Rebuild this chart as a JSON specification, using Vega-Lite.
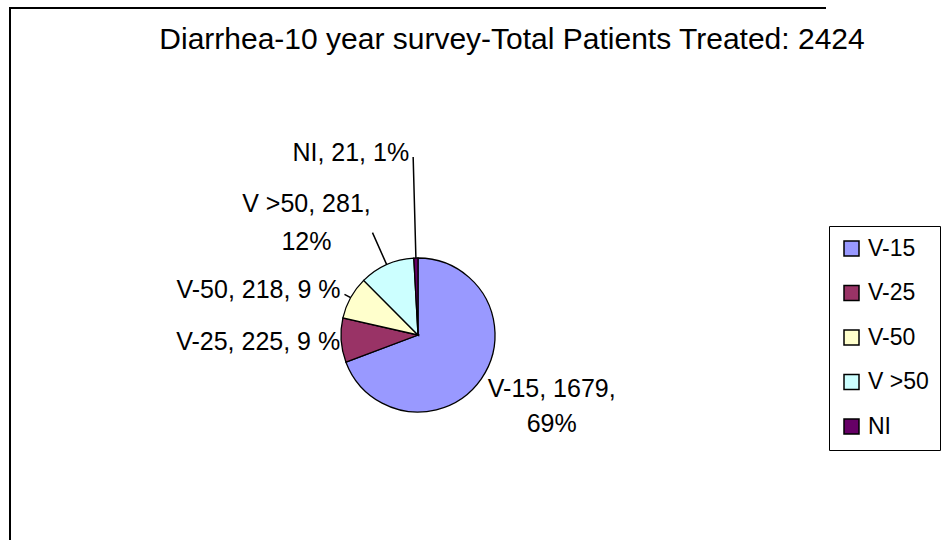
{
  "$schema": "https://vega.github.io/schema/vega-lite/v6.json",
  "width": 816,
  "height": 654,
  "autosize": {"type": "none"},
  "padding": {"left": 10, "top": 8, "right": 115, "bottom": 0},
  "background": "white",
  "view": {"stroke": "black", "strokeWidth": 2, "strokeDash": [816, 1470, 654]},
  "datasets": {
    "survey": [
      {"category": "V-15", "patients": 1679, "label": "V-15, 1679,\n69%"},
      {"category": "V-25", "patients": 225, "label": "V-25, 225, 9 %"},
      {"category": "V-50", "patients": 218, "label": "V-50, 218, 9 %"},
      {"category": "V >50", "patients": 281, "label": "V >50, 281,\n12%"},
      {"category": "NI", "patients": 21, "label": "NI, 21, 1%"}
    ],
    "heading": [
      {"text": "Diarrhea-10 year survey-Total Patients Treated: 2424"}
    ]
  },
  "layer": [
    {
      "data": {"name": "survey"},
      "transform": [{"window": [{"op": "row_number", "as": "rank"}]}],
      "encoding": {
        "theta": {"field": "patients", "type": "quantitative", "stack": true},
        "order": {"field": "rank", "type": "quantitative"}
      },
      "layer": [
        {
          "mark": {"type": "arc", "outerRadius": 77, "stroke": "black", "strokeWidth": 1.3},
          "encoding": {
            "color": {
              "field": "category",
              "type": "nominal",
              "scale": {
                "domain": ["V-15", "V-25", "V-50", "V >50", "NI"],
                "range": ["#9999FF", "#993366", "#FFFFCC", "#CCFFFF", "#660066"]
              },
              "legend": {
                "title": null,
                "orient": "none",
                "legendX": 819,
                "legendY": 218,
                "strokeColor": "black",
                "padding": 11,
                "symbolType": "square",
                "symbolSize": 225,
                "symbolStrokeColor": "black",
                "symbolStrokeWidth": 1.5,
                "labelFont": "Liberation Sans",
                "labelFontSize": 23,
                "labelColor": "black",
                "labelExpr": "datum.label + '\u00a0\u00a0\u00a0\u00a0\u00a0\u00a0'",
                "rowPadding": 20.5,
                "labelOffset": 5
              }
            }
          }
        },
        {
          "mark": {"type": "arc", "innerRadius": 77, "outerRadius": 178, "padAngle": 3.1, "filled": false, "stroke": "black", "strokeWidth": 1.5},
          "encoding": {"opacity": {"condition": {"test": "datum.category === 'NI'", "value": 1}, "value": 0}}
        },
        {
          "mark": {"type": "arc", "innerRadius": 77, "outerRadius": 112, "padAngle": 3.1, "filled": false, "stroke": "black", "strokeWidth": 1.5},
          "encoding": {"opacity": {"condition": {"test": "datum.category === 'V >50'", "value": 1}, "value": 0}}
        },
        {
          "mark": {"type": "arc", "innerRadius": 77, "outerRadius": 84, "padAngle": 3.1, "filled": false, "stroke": "black", "strokeWidth": 1.5},
          "encoding": {"opacity": {"condition": {"test": "datum.category === 'V-50'", "value": 1}, "value": 0}}
        },
        {
          "mark": {"type": "text", "radius": 178, "align": "right", "baseline": "alphabetic", "dx": -4, "dy": 4, "font": "Liberation Sans", "fontSize": 25, "color": "black"},
          "encoding": {"text": {"condition": {"test": "datum.category === 'NI'", "field": "label", "type": "nominal"}, "value": ""}}
        },
        {
          "mark": {"type": "text", "radius": 112, "align": "center", "baseline": "alphabetic", "dx": -66, "dy": -21, "lineBreak": "\n", "lineHeight": 38, "font": "Liberation Sans", "fontSize": 25, "color": "black"},
          "encoding": {"text": {"condition": {"test": "datum.category === 'V >50'", "field": "label", "type": "nominal"}, "value": ""}}
        },
        {
          "mark": {"type": "text", "radius": 84, "align": "right", "baseline": "alphabetic", "dx": -4, "dy": 4, "font": "Liberation Sans", "fontSize": 25, "color": "black"},
          "encoding": {"text": {"condition": {"test": "datum.category === 'V-50'", "field": "label", "type": "nominal"}, "value": ""}}
        },
        {
          "mark": {"type": "text", "radius": 77, "align": "right", "baseline": "alphabetic", "dx": -1, "dy": 10, "font": "Liberation Sans", "fontSize": 25, "color": "black"},
          "encoding": {"text": {"condition": {"test": "datum.category === 'V-25'", "field": "label", "type": "nominal"}, "value": ""}}
        },
        {
          "mark": {"type": "text", "radius": 86, "align": "center", "baseline": "alphabetic", "dx": 63, "dy": 13, "lineBreak": "\n", "lineHeight": 35, "font": "Liberation Sans", "fontSize": 25, "color": "black"},
          "encoding": {"text": {"condition": {"test": "datum.category === 'V-15'", "field": "label", "type": "nominal"}, "value": ""}}
        }
      ]
    },
    {
      "data": {"name": "heading"},
      "mark": {"type": "text", "radius": 286, "align": "center", "baseline": "alphabetic", "dx": 94, "font": "Liberation Sans", "fontSize": 30, "color": "black"},
      "encoding": {"text": {"field": "text", "type": "nominal"}}
    }
  ],
  "config": {
    "font": "Liberation Sans"
  }
}
